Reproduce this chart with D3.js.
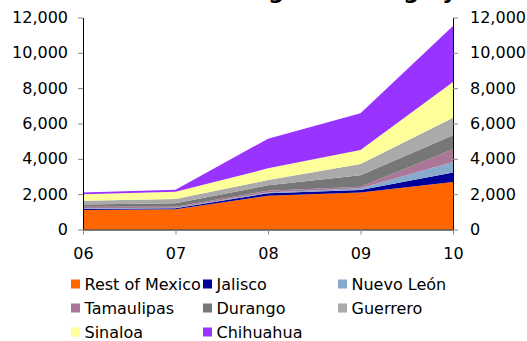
<!DOCTYPE html>
<html>
<head>
<meta charset="utf-8">
<script src="https://cdn.jsdelivr.net/npm/d3@7"></script>
<style>
  body { margin: 0; background: #fff; }
  text { font-family: "DejaVu Sans", Verdana, sans-serif; }
</style>
</head>
<body>
<script>
const years = ['06', '07', '08', '09', '10'];
const states = ['Rest of Mexico', 'Jalisco', 'Nuevo León', 'Tamaulipas', 'Durango', 'Guerrero', 'Sinaloa', 'Chihuahua'];
const colors = ['#ff6600', '#000099', '#88aacc', '#aa7799', '#777777', '#aaaaaa', '#ffff99', '#9933ff'];

const restOfMexico = [1100, 1140, 1910, 2100, 2690];
const jalisco      = [60, 60, 140, 135, 530];
const nuevoLeon    = [40, 30, 50, 95, 600];
const tamaulipas   = [90, 60, 100, 90, 720];
const durango      = [130, 190, 300, 650, 790];
const guerrero     = [210, 250, 300, 640, 1000];
const sinaloa      = [360, 410, 660, 790, 2020];
const chihuahua    = [110, 110, 1680, 2080, 3170];

const yTicks = [0, 2000, 4000, 6000, 8000, 10000, 12000];

const series = [restOfMexico, jalisco, nuevoLeon, tamaulipas, durango, guerrero, sinaloa, chihuahua];
const table = years.map((yr, i) => {
  const row = { year: yr };
  states.forEach((s, j) => { row[s] = series[j][i]; });
  return row;
});

const svgWidth = 527;
const svgHeight = 341;
const plotLeft = 83, plotRight = 453, plotTop = 17.5, plotBottom = 229.5;

const svg = d3.select('body')
              .append('svg')
              .attr('width', svgWidth)
              .attr('height', svgHeight);

// title, almost entirely cut off by the top of the picture
svg.append('text')
   .attr('x', svgWidth / 2)
   .attr('y', -1)
   .attr('text-anchor', 'middle')
   .attr('font-size', 22)
   .attr('font-weight', 'bold')
   .text('Murders linked to drug trafficking by state');

const x = d3.scalePoint()
            .domain(years)
            .range([plotLeft, plotRight]);

const y = d3.scaleLinear()
            .domain([0, 12000])
            .range([plotBottom, plotTop]);

const layers = d3.stack().keys(states)(table);

const area = d3.area()
               .x(d => x(d.data.year))
               .y0(d => y(d[0]))
               .y1(d => y(d[1]));

svg.selectAll('path.layer')
   .data(layers)
   .enter()
   .append('path')
   .attr('class', 'layer')
   .attr('d', area)
   .attr('fill', (d, i) => colors[i]);

const fmt = d3.format(',');

const yLeft = svg.append('g')
                 .attr('transform', `translate(${plotLeft},0)`)
                 .call(d3.axisLeft(y).tickValues(yTicks).tickFormat(fmt).tickSize(5).tickSizeOuter(0).tickPadding(10));

const yRight = svg.append('g')
                  .attr('transform', `translate(${plotRight},0)`)
                  .call(d3.axisRight(y).tickValues(yTicks).tickFormat(fmt).tickSize(5).tickSizeOuter(0).tickPadding(12));

const xAxis = svg.append('g')
                 .attr('transform', `translate(0,${plotBottom})`)
                 .call(d3.axisBottom(x).tickSize(5).tickSizeOuter(0).tickPadding(13.5));

[yLeft, yRight, xAxis].forEach(g => {
  g.selectAll('text').attr('font-size', 16).attr('fill', '#000')
   .style('font-family', '"DejaVu Sans", Verdana, sans-serif');
  g.selectAll('line').attr('stroke', '#888');
  g.select('.domain').attr('stroke', '#000');
});

// legend
const legendX = [71, 203, 338];
const legendY = [284, 308, 332];

const legend = svg.selectAll('g.legend')
                  .data(states)
                  .enter()
                  .append('g')
                  .attr('class', 'legend')
                  .attr('transform', (d, i) => `translate(${legendX[i % 3]},${legendY[Math.floor(i / 3)]})`);

legend.append('rect')
      .attr('x', 0)
      .attr('y', -4.5)
      .attr('width', 9)
      .attr('height', 9)
      .attr('fill', (d, i) => colors[i]);

legend.append('text')
      .attr('x', 13.5)
      .attr('dy', '0.36em')
      .attr('font-size', 16)
      .text(d => d);
</script>
</body>
</html>
